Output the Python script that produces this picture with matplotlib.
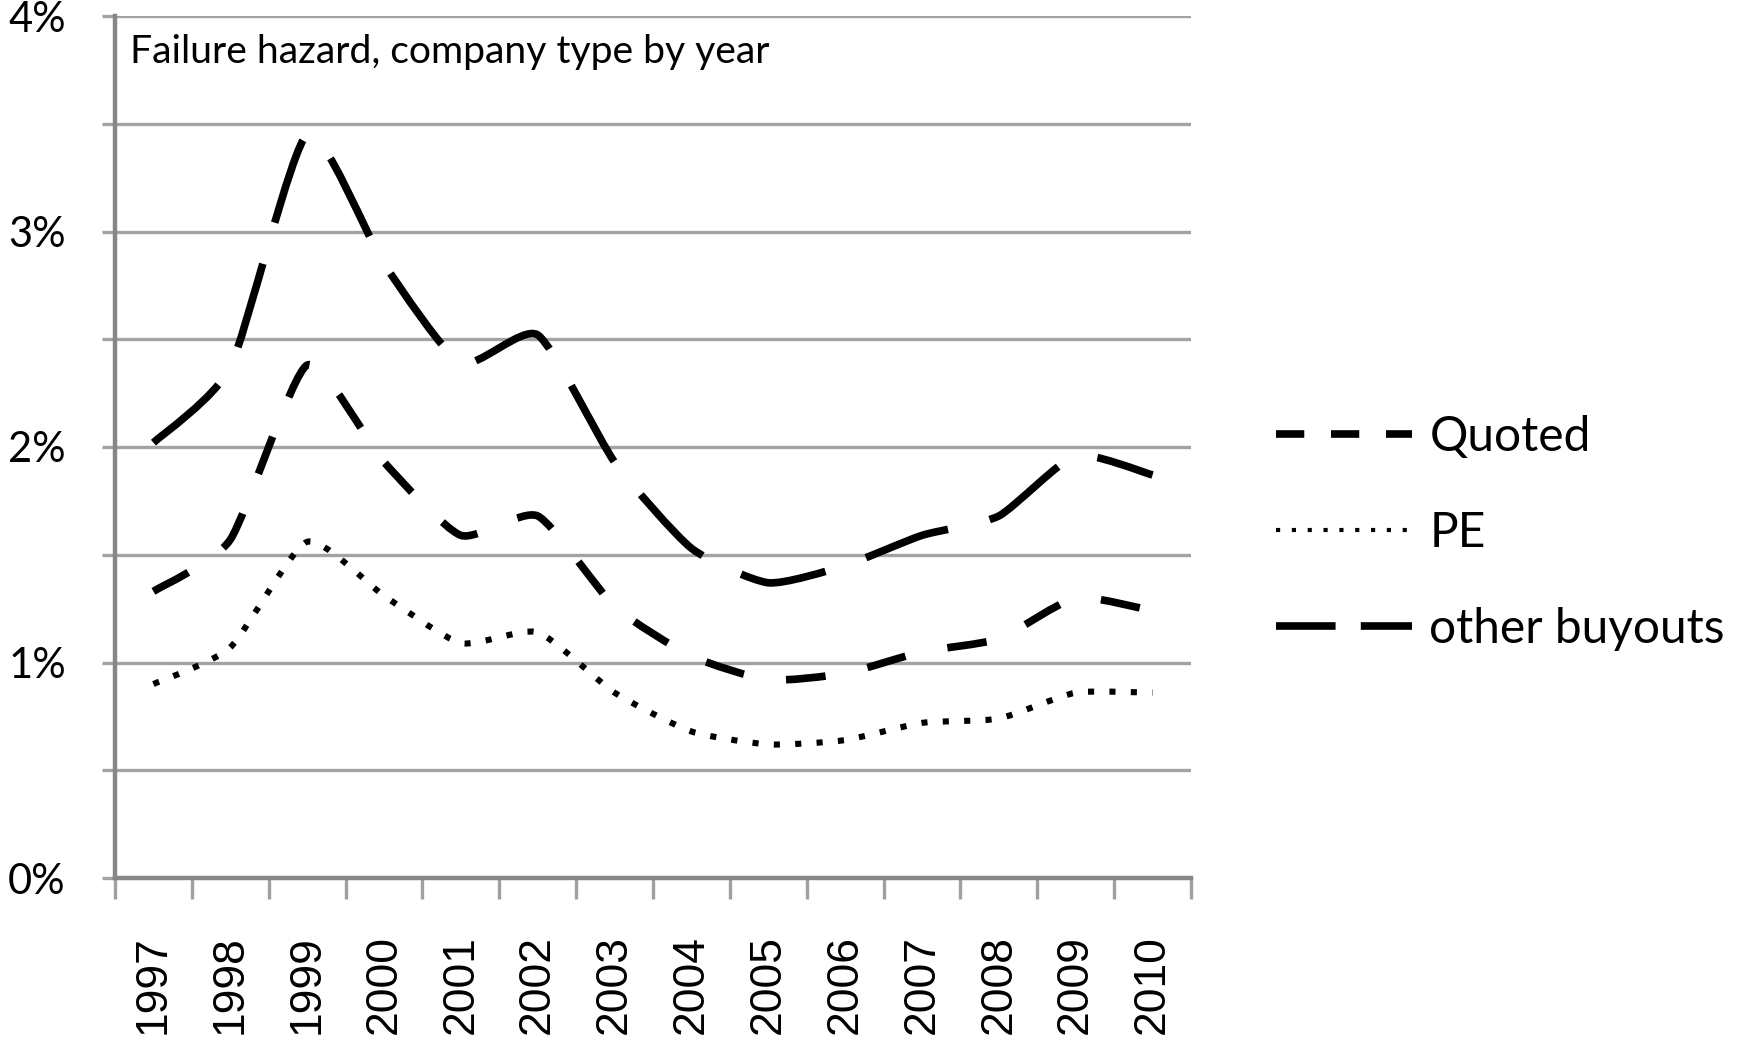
import numpy as np
import matplotlib
matplotlib.use("Agg")
import matplotlib.pyplot as plt
from matplotlib.path import Path
from matplotlib.patches import PathPatch
from matplotlib.lines import Line2D
from matplotlib.ticker import FuncFormatter

# ---------------- data ----------------
years = ["1997", "1998", "1999", "2000", "2001", "2002", "2003",
         "2004", "2005", "2006", "2007", "2008", "2009", "2010"]
quoted = [1.33, 1.57, 2.38, 1.93, 1.59, 1.68, 1.26, 1.03, 0.92, 0.95, 1.05, 1.11, 1.30, 1.24]
pe = [0.90, 1.07, 1.56, 1.31, 1.09, 1.14, 0.86, 0.68, 0.62, 0.64, 0.72, 0.74, 0.86, 0.86]
other_buyouts = [2.02, 2.37, 3.45, 2.85, 2.39, 2.52, 1.93, 1.53, 1.37, 1.45, 1.59, 1.68, 1.96, 1.87]
series_names = ["Quoted", "PE", "other buyouts"]
y_ticks = [0, 0.5, 1, 1.5, 2, 2.5, 3, 3.5, 4]
title_text = "Failure hazard, company type by year"

TXT_FONT = ["Lato", "DejaVu Sans"]
NUM_FONT = ["Liberation Sans", "DejaVu Sans"]


def smooth_path(xs, ys, k=1 / 10.0):
    """Excel-like smoothed line (cardinal spline through the data points as cubic Beziers)."""
    pts = np.column_stack([np.asarray(xs, float), np.asarray(ys, float)])
    n = len(pts)
    verts = [pts[0]]
    codes = [Path.MOVETO]
    for i in range(n - 1):
        p0 = pts[i - 1] if i > 0 else pts[i]
        p1 = pts[i]
        p2 = pts[i + 1]
        p3 = pts[i + 2] if i + 2 < n else pts[i + 1]
        c1 = p1 + (p2 - p0) * k
        c2 = p2 - (p3 - p1) * k
        verts += [c1, c2, p2]
        codes += [Path.CURVE4] * 3
    return Path(verts, codes)


W, H = 1737, 1043
fig = plt.figure(figsize=(W / 100, H / 100), dpi=100)
fig.patch.set_facecolor("white")

left, right, top, bottom = 115, 1191, 16, 878
ax = fig.add_axes([left / W, 1 - bottom / H, (right - left) / W, (bottom - top) / H])

x = np.arange(len(years))
ax.set_xlim(-0.5, len(years) - 0.5)
ax.set_ylim(0, 4)

# grid & axes
AX_COL = "#868686"
GRID_COL = "#A3A3A3"
ax.set_axisbelow(True)
ax.set_yticks(y_ticks)
ax.yaxis.grid(True, color=GRID_COL, lw=2.4)
ax.xaxis.grid(False)
for s in ["top", "right"]:
    ax.spines[s].set_visible(False)
for s in ["left", "bottom"]:
    ax.spines[s].set_color(AX_COL)
    ax.spines[s].set_linewidth(3.2)

ax.yaxis.set_major_formatter(FuncFormatter(lambda v, p: f"{v:.0f}%" if abs(v - round(v)) < 1e-9 else ""))
ax.tick_params(axis="y", which="major", direction="out", length=9.4, width=2.4,
               color=GRID_COL, pad=26, labelsize=30)
for lab in ax.get_yticklabels():
    lab.set_family(TXT_FONT)

ax.set_xticks(x)
ax.set_xticklabels(years, rotation=90, family=NUM_FONT, fontsize=32)
ax.set_xticks(np.arange(-0.5, len(years), 1.0), minor=True)
ax.tick_params(axis="x", which="major", length=0, pad=41)
ax.tick_params(axis="x", which="minor", direction="out", length=15, width=2.4, color="#A0A0A0")

# series
LW = 5.5
styles = {
    "Quoted": dict(lw=LW, ls=(0, (5.2, 5.6))),
    "PE": dict(lw=4.4, ls=(0, (1.0, 2.5))),
    "other buyouts": dict(lw=LW, ls=(0, (11.4, 5.6))),
}
for name, vals in zip(series_names, [quoted, pe, other_buyouts]):
    st = styles[name]
    patch = PathPatch(smooth_path(x, vals), fill=False, edgecolor="black",
                      lw=st["lw"], linestyle=st["ls"], capstyle="butt", joinstyle="round",
                      zorder=3)
    ax.add_patch(patch)

ax.text(0.014, 0.958, title_text, transform=ax.transAxes, fontsize=28.2,
        family=TXT_FONT, ha="left", va="center", color="black")

# legend
handles = [
    Line2D([], [], color="black", lw=5.5, ls=(0, (3.7, 3.5)), dash_capstyle="butt"),
    Line2D([], [], color="black", lw=3.0, ls=(0, (1.0, 2.8)), dash_capstyle="butt"),
    Line2D([], [], color="black", lw=5.5, ls=(0, (7.8, 3.3)), dash_capstyle="butt"),
]
fs = 34.5
fig.legend(handles, series_names, loc="center left",
           bbox_to_anchor=(1276 / W, 1 - 533 / H), frameon=False,
           prop={"family": TXT_FONT, "size": fs},
           handlelength=136 / (fs * 100 / 72), handletextpad=0.36,
           labelspacing=1.09, borderpad=0, borderaxespad=0)

fig.savefig("out.png", dpi=100, facecolor="white")
